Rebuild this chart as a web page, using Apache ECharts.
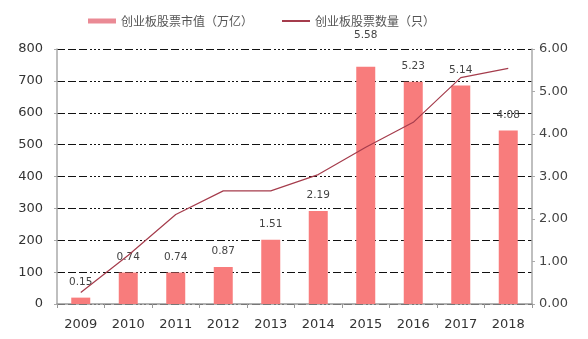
<!DOCTYPE html>
<html><head><meta charset="utf-8">
<script src="https://cdn.jsdelivr.net/npm/echarts@6/dist/echarts.min.js"></script>
<style>html,body{margin:0;padding:0;background:#fff;}#c{width:588px;height:339px;}</style>
</head><body><div id="c"></div>
<script>
const years = ['2009','2010','2011','2012','2013','2014','2015','2016','2017','2018'];
const marketValue = [0.15, 0.74, 0.74, 0.87, 1.51, 2.19, 5.58, 5.23, 5.14, 4.08];
const stockCount = [36, 153, 281, 355, 355, 406, 492, 570, 710, 739];
const leftTicks = [0, 800, 100];
const rightTicks = [0, 6, 1];

const chart = echarts.init(document.getElementById('c'));
const font = 'DejaVu Sans, sans-serif';
chart.setOption({
  animation: false,
  backgroundColor: '#fff',
  legend: {
    top: 10, left: 83, itemGap: 28,
    textStyle: {fontSize: 12, color: '#555', fontFamily: 'Noto Sans CJK SC'},
    data: [
      {name: '创业板股票市值（万亿）', icon: 'rect', itemStyle: {color: '#ea8a95'}},
      {name: '创业板股票数量（只）', itemStyle: {opacity: 0}}
    ],
    itemWidth: 28, itemHeight: 5
  },
  grid: {left: 57, right: 56, top: 49, bottom: 35},
  xAxis: {
    type: 'category', data: years,
    axisLine: {lineStyle: {color: '#999', width: 1.5}},
    axisTick: {show: true, length: 4, lineStyle: {color: '#999'}},
    axisLabel: {color: '#333', fontSize: 13, fontFamily: font, margin: 14}
  },
  yAxis: [
    {type: 'value', min: leftTicks[0], max: leftTicks[1], interval: leftTicks[2],
     axisLine: {show: true, lineStyle: {color: '#aaa', width: 1.5}},
     axisTick: {show: true, length: 3, lineStyle: {color: '#aaa'}},
     axisLabel: {color: '#333', fontSize: 13, fontFamily: font, margin: 14},
     splitLine: {show: true, lineStyle: {color: '#111', width: 1, type: [8, 3, 8, 3, 8, 3, 2, 2, 2, 2, 2, 3]}}},
    {type: 'value', min: rightTicks[0], max: rightTicks[1], interval: rightTicks[2],
     axisLine: {show: true, lineStyle: {color: '#aaa', width: 1.5}},
     axisTick: {show: true, length: 3, lineStyle: {color: '#aaa'}},
     axisLabel: {color: '#444', fontSize: 13, fontFamily: font, margin: 7,
                 formatter: v => v.toFixed(2)},
     splitLine: {show: false}}
  ],
  series: [
    {name: '创业板股票市值（万亿）', type: 'bar', yAxisIndex: 1, barWidth: 19,
     itemStyle: {color: '#f87c7c'},
     label: {show: true, position: 'top', distance: 10, color: '#444', fontSize: 10.5,
             fontFamily: font, formatter: p => p.value.toFixed(2)},
     data: marketValue.map((v, i) => i === 6 ? {value: v, label: {distance: 26}} : v)},
    {name: '创业板股票数量（只）', type: 'line', yAxisIndex: 0, symbol: 'none',
     lineStyle: {color: '#a53c4c', width: 1.2}, itemStyle: {color: '#a53c4c'},
     data: stockCount, z: 3}
  ]
});
</script></body></html>
